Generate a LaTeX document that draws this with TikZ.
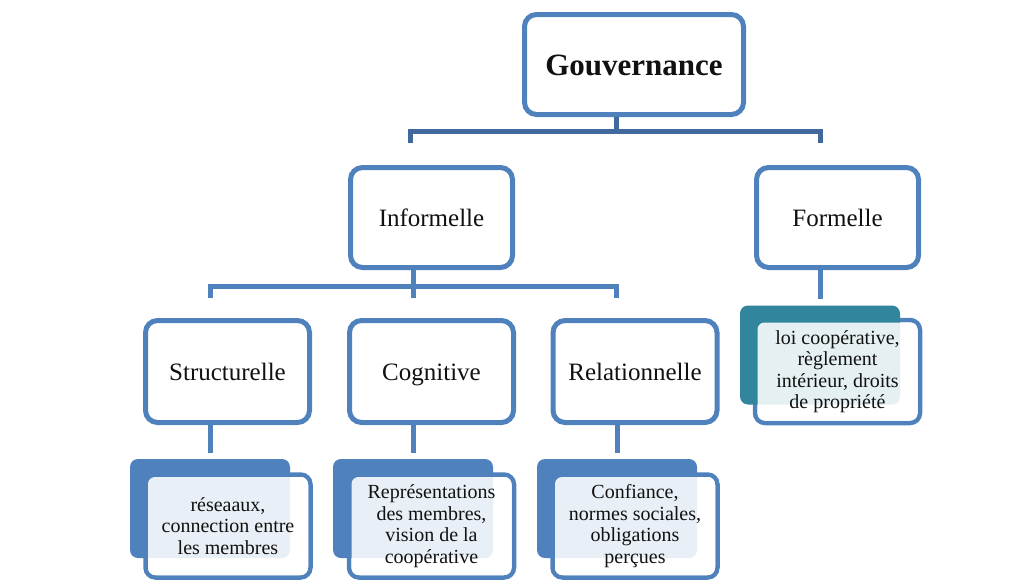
\documentclass[tikz,border=0pt]{standalone}
\usepackage{fontspec}
\setmainfont{Liberation Serif}
\definecolor{blueA}{HTML}{4F81BD}
\definecolor{blueB}{HTML}{41699E}
\definecolor{tealA}{HTML}{31859C}
\definecolor{txt}{HTML}{111111}
\tikzset{
  frame/.style={draw=blueA, line width=5, fill=white, rounded corners=12, inner sep=0, text=txt,
    font=\fontsize{25}{30}\selectfont, text height=17.5pt, text depth=0pt},
  leaf/.style={draw=blueA, line width=4.5, fill=white, rounded corners=10, inner sep=0,
    minimum width=165, minimum height=103},
  backbox/.style={fill=blueA, rounded corners=8, inner sep=0, minimum width=160, minimum height=99},
  pale/.style={fill=white, fill opacity=.88, text opacity=1, text=txt, rounded corners=7, inner sep=0,
    minimum width=160, minimum height=98, align=center, font=\fontsize{20}{21.5}\selectfont},
  bus/.style={draw=blueA, line width=5, line join=miter},
  busdark/.style={draw=blueB, line width=5, line join=miter}
}
\begin{document}
\begin{tikzpicture}[x=1pt,y=-1pt]
\useasboundingbox (0,0) rectangle (1029,581);
% level 0 and 1
\node[frame, minimum width=219, minimum height=100, font=\bfseries\fontsize{31}{36}\selectfont, text height=21.5pt] (gouv) at (634,64.5) {Gouvernance};
\node[frame, minimum width=162, minimum height=100] (inf) at (431.5,217.5) {Informelle};
\node[frame, minimum width=162, minimum height=100] (form) at (837.5,217.5) {Formelle};
% level 2
\node[frame, minimum width=164, minimum height=102] (str) at (227.5,371.5) {Structurelle};
\node[frame, minimum width=164, minimum height=102] (cog) at (431.5,371.5) {Cognitive};
\node[frame, minimum width=164, minimum height=102] (rel) at (635,371.5) {Relationnelle};
% bus coordinates
\coordinate (j0) at (616,131);
\coordinate (d1L) at (410,143);
\coordinate (d1R) at (820,143);
\coordinate (j1) at (413,286);
\coordinate (d2L) at (210,298);
\coordinate (d2M) at (413,298);
\coordinate (d2R) at (616,298);
% connectors level 0 -> 1
\draw[busdark] (gouv.south -| j0) -- (j0);
\draw[busdark] (d1L) -- (d1L |- j0) -- (d1R |- j0) -- (d1R);
% connectors level 1 -> 2
\draw[bus] (inf.south -| j1) -- (d2M);
\draw[bus] (d2L) -- (d2L |- j1) -- (d2R |- j1) -- (d2R);
% leaves: front frames
\node[leaf] (formf) at (837.5,371.5) {};
\node[leaf] (strf) at (228,526) {};
\node[leaf] (cogf) at (431.5,526) {};
\node[leaf] (relf) at (635,526) {};
% back boxes
\node[backbox, fill=tealA] (formb) at (820,355) {};
\node[backbox] (strb) at (210,508.5) {};
\node[backbox] (cogb) at (413,508.5) {};
\node[backbox] (relb) at (617,508.5) {};
% stubs to leaves
\draw[bus] (form.south -| formb) -- ([yshift=6]formb.north);
\draw[bus] (str.south -| strb) -- ([yshift=6]strb.north);
\draw[bus] (cog.south -| cogb) -- ([yshift=6]cogb.north);
\draw[bus] (rel.south -| relb) -- ([yshift=6]relb.north);
% pale text areas
\node[pale] (formt) at (formf) {loi coopérative,\\règlement\\intérieur, droits\\de propriété};
\node[pale] (strt) at (strf) {réseaaux,\\connection entre\\les membres};
\node[pale] (cogt) at (cogf) {Représentations\\des membres,\\vision de la\\coopérative};
\node[pale] (relt) at (relf) {Confiance,\\normes sociales,\\obligations\\perçues};
\end{tikzpicture}
\end{document}
